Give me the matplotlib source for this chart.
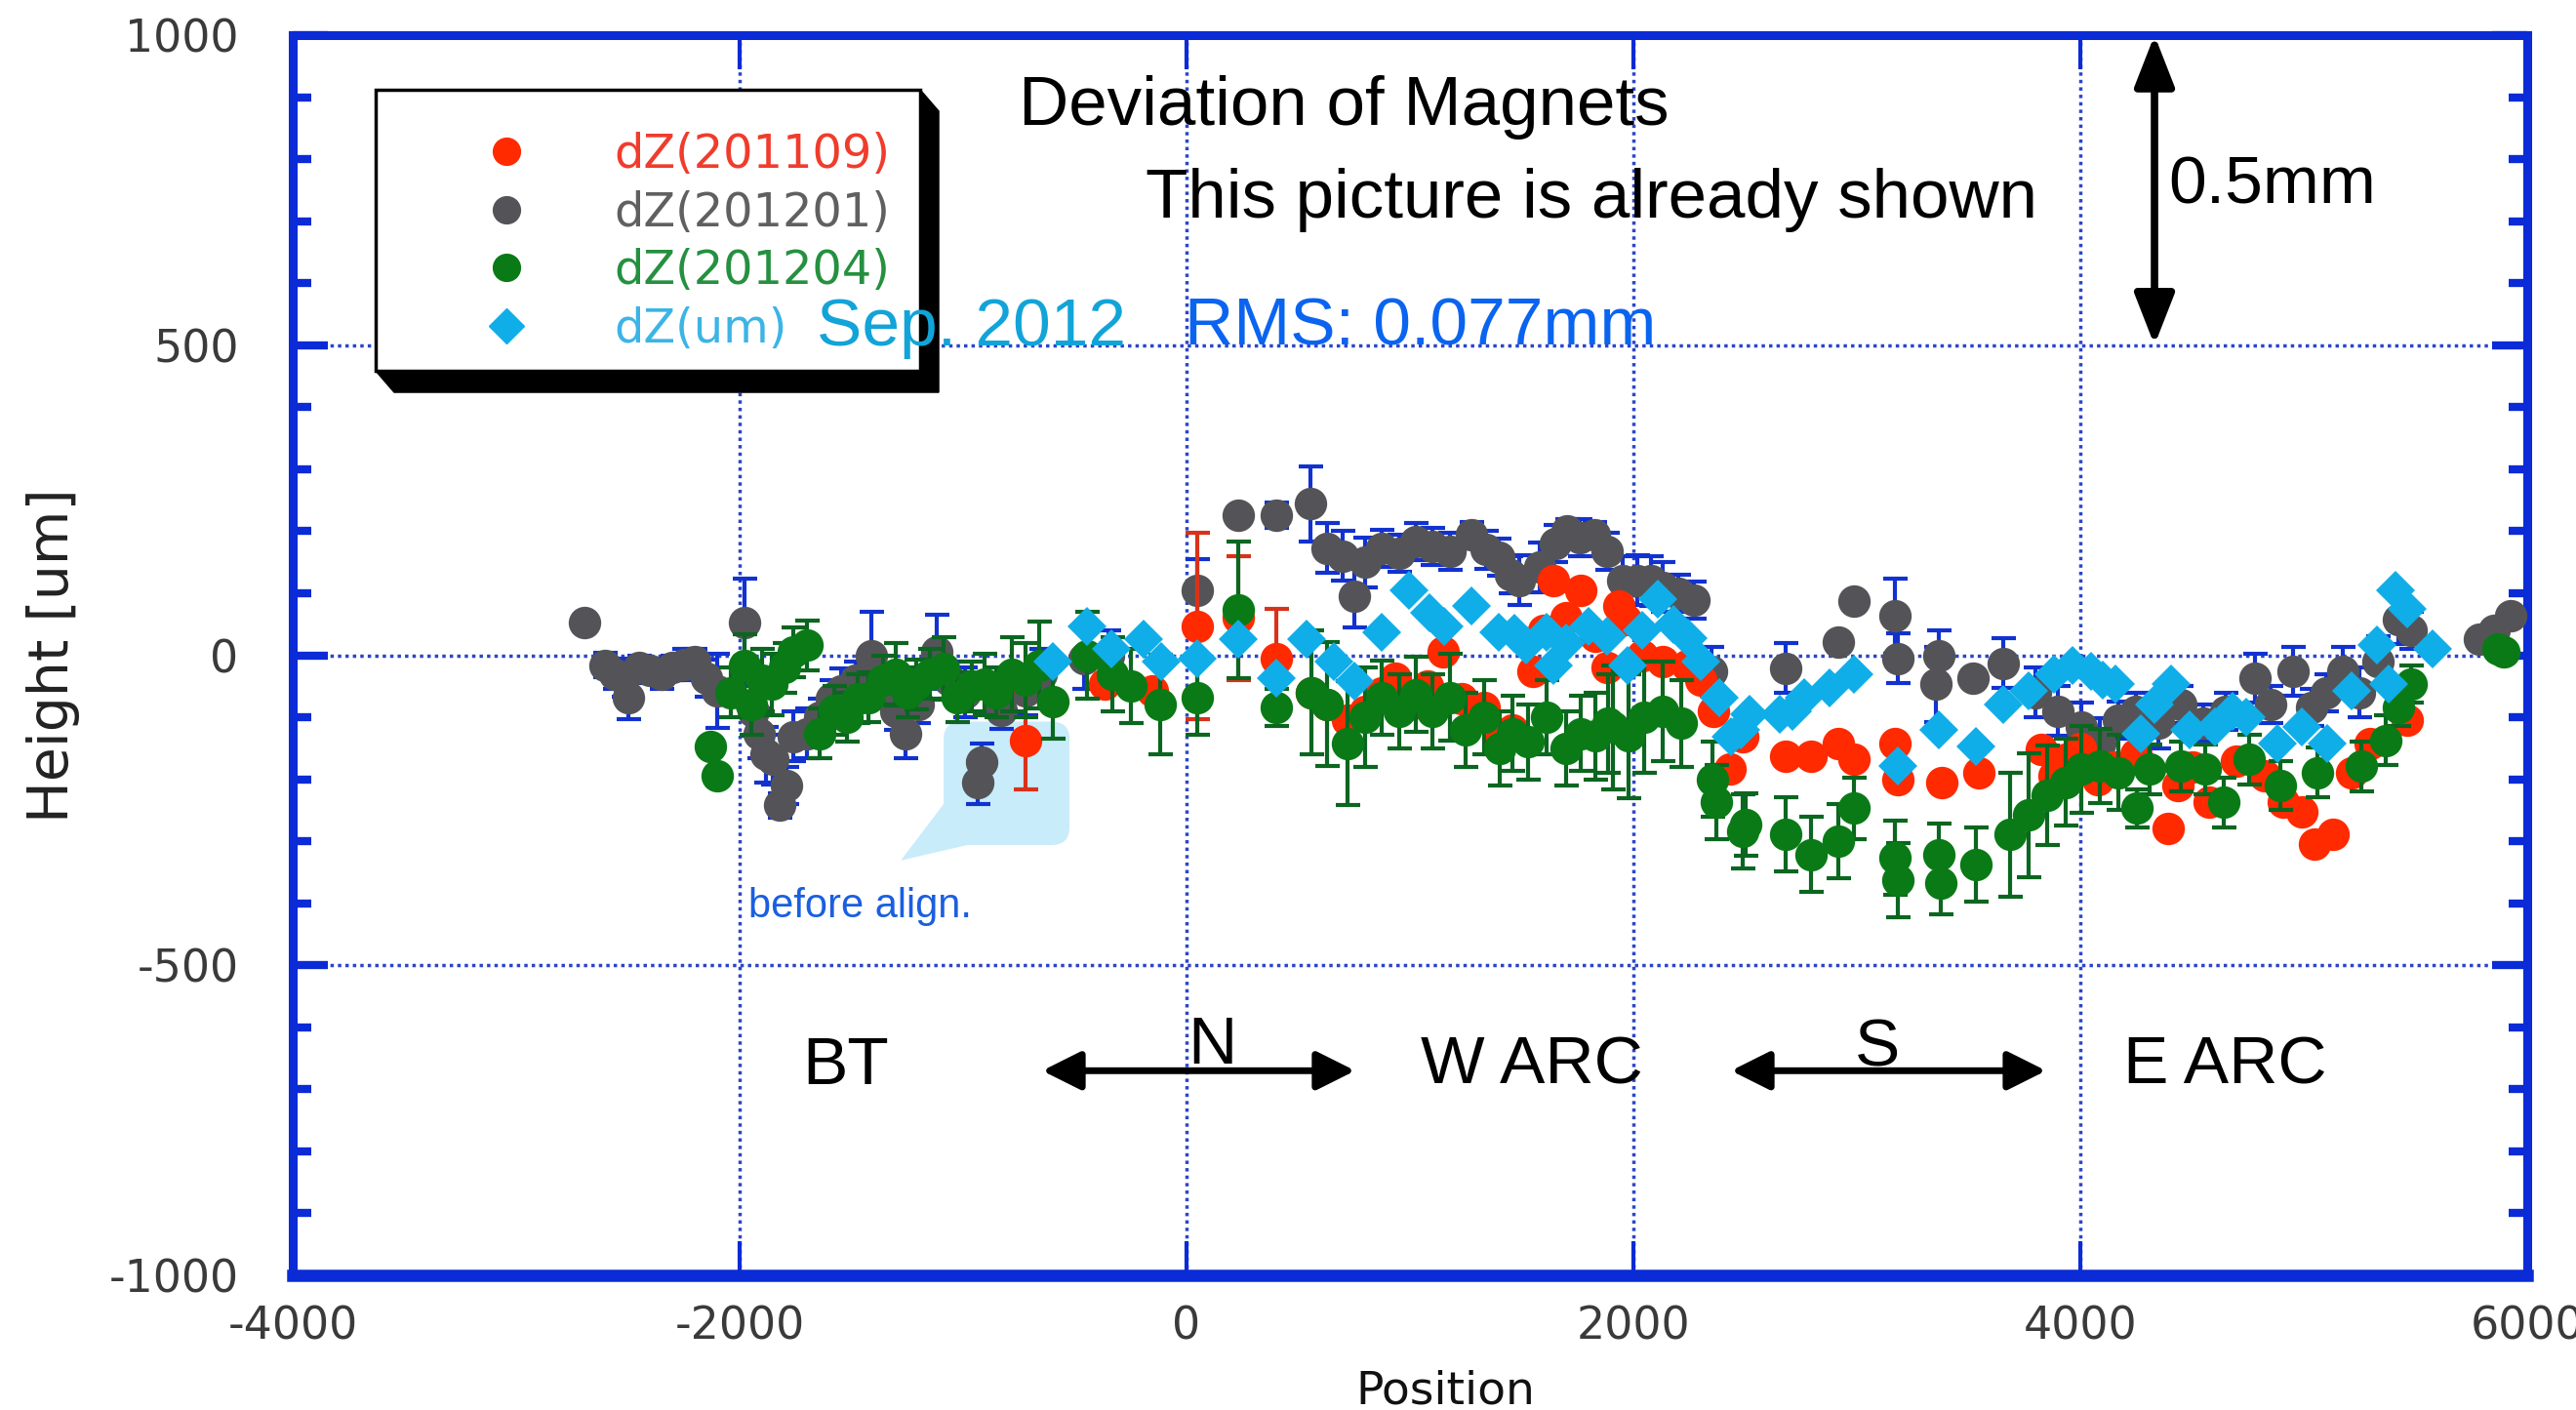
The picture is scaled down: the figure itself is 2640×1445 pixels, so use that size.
import numpy as np
import matplotlib
matplotlib.use("Agg")
import matplotlib.pyplot as plt
from matplotlib.patches import FancyBboxPatch, Polygon, Rectangle
from matplotlib.lines import Line2D
from matplotlib.ticker import MultipleLocator

plt.rcParams['axes.unicode_minus'] = False
plt.rcParams['font.family'] = ['DejaVu Sans']

# ---------------- data ----------------
gray_x = [-2696, -2604, -2560, -2520, -2496, -2450, -2400, -2350, -2300, -2250, -2200, -2150, -2099,
          -1977, -1940, -1912, -1880, -1850, -1823, -1790, -1762, -1700, -1640, -1590, -1548, -1480,
          -1410, -1350, -1300, -1257, -1200, -1119, -1060, -990, -935, -915, -828, -721, -650, -460,
          -350, 47, 231, 400, 553, 630, 700, 752, 800, 875, 950, 1028, 1100, 1181, 1273, 1340, 1396,
          1450, 1488, 1580, 1650, 1702, 1760, 1825, 1880, 1950, 2019, 2080, 2130, 2200, 2270, 2349,
          2683, 2919, 2989, 3170, 3184, 3352, 3365, 3518, 3657, 3800, 3900, 4003, 4086, 4170, 4250,
          4350, 4450, 4550, 4650, 4783, 4850, 4950, 5034, 5100, 5173, 5250, 5330, 5423, 5480, 5785,
          5850, 5924]
gray_y = [53, -16, -30, -37, -68, -20, -25, -30, -20, -15, -10, -37, -57,
          53, -90, -126, -160, -168, -242, -210, -131, -126, -100, -70, -57, -40,
          0, -50, -90, -126, -80, 5, -40, -60, -205, -173, -89, -57, -30, -5,
          0, 105, 226, 226, 244, 173, 160, 95, 150, 173, 165, 184, 175, 168, 195, 170, 158,
          130, 121, 142, 180, 200, 190, 195, 168, 120, 121, 120, 110, 100, 89, -26,
          -21, 21, 87, 63, -5, -47, 0, -37, -13, -60, -90, -116, -142, -105, -90,
          -110, -80, -110, -90, -37, -80, -26, -84, -60, -26, -60, -10, 58, 40, 26,
          40, 63]
gray_err = [0, 20, 25, 30, 35, 20, 20, 25, 20, 25, 20, 30, 60,
            70, 40, 40, 45, 40, 20, 30, 40, 40, 30, 30, 35, 30,
            70, 30, 30, 40, 30, 60, 30, 40, 35, 30, 30, 40, 40, 50,
            40, 50, 0, 20, 60, 40, 40, 50, 40, 30, 30, 30, 30, 30, 20, 30, 30,
            30, 40, 40, 30, 20, 30, 20, 30, 40, 40, 40, 40, 30, 30, 40,
            40, 0, 0, 60, 40, 60, 40, 0, 40, 40, 40, 40, 40, 30, 30,
            40, 30, 30, 30, 40, 30, 40, 30, 30, 40, 40, 40, 40, 30, 0,
            0, 0]

red_x = [-721, -367, -153, 47, 231, 400, 560, 630, 721, 800, 875, 936, 1000, 1080, 1150, 1230,
         1300, 1334, 1396, 1460, 1549, 1600, 1641, 1700, 1764, 1830, 1880, 1936, 1964, 2040, 2130,
         2242, 2300, 2360, 2433, 2488, 2683, 2794, 2919, 2989, 3170, 3184, 3379, 3546, 3824, 3880,
         3935, 4000, 4080, 4150, 4250, 4394, 4436, 4500, 4575, 4700, 4825, 4908, 4992, 5047, 5131,
         5214, 5298, 5465]
red_y = [-137, -47, -58, 47, 60, -5, -60, -80, -105, -90, -60, -37, -80, -50, 5, -70,
         -100, -84, -142, -120, -26, 40, 121, 60, 105, 30, -20, 79, 58, 0, -10,
         -16, -40, -90, -184, -131, -163, -163, -142, -168, -142, -200, -205, -189, -152, -194,
         -168, -150, -200, -180, -160, -279, -210, -180, -237, -170, -194, -237, -253, -305, -289,
         -189, -142, -105]
red_err = [80, 0, 0, 150, 100, 80, 0, 0, 0, 0, 0, 0, 0, 0, 0, 0,
           0, 0, 0, 0, 0, 0, 0, 0, 0, 0, 0, 0, 0, 0, 0,
           0, 0, 0, 0, 0, 0, 0, 0, 0, 0, 0, 0, 0, 0, 0,
           0, 0, 0, 0, 0, 0, 0, 0, 0, 0, 0, 0, 0, 0, 0,
           0, 0, 0]

green_x = [-2129, -2099, -2040, -1977, -1946, -1900, -1854, -1800, -1762, -1700, -1640, -1578, -1520,
           -1470, -1425, -1360, -1303, -1250, -1211, -1150, -1089, -1027, -960, -905, -850, -782,
           -720, -660, -599, -446, -334, -250, -120, 47, 231, 400, 560, 630, 721, 800, 875, 950,
           1028, 1100, 1181, 1250, 1334, 1400, 1457, 1530, 1610, 1700, 1764, 1830, 1886, 1908, 1980,
           2047, 2130, 2214, 2353, 2370, 2488, 2500, 2683, 2794, 2919, 2989, 3170, 3184, 3365, 3375,
           3532, 3685, 3769, 3852, 3935, 4003, 4086, 4170, 4253, 4308, 4450, 4561, 4644, 4756, 4894,
           5061, 5256, 5367, 5423, 5479, 5868, 5896]
green_y = [-147, -195, -60, -16, -79, -40, -47, -20, 5, 16, -126, -89, -100,
           -70, -68, -40, -31, -60, -47, -30, -21, -68, -50, -47, -60, -31,
           -40, -16, -74, 0, -31, -50, -79, -68, 73, -84, -60, -79, -142, -100, -68, -90,
           -63, -90, -68, -120, -100, -150, -126, -140, -100, -150, -126, -130, -110, -116, -130,
           -100, -90, -110, -200, -237, -284, -273, -289, -321, -300, -247, -326, -363, -321, -368,
           -337, -289, -258, -226, -205, -184, -179, -189, -247, -184, -179, -184, -237, -168, -210,
           -189, -179, -137, -84, -47, 10, 5]
green_err = [0, 0, 40, 50, 50, 50, 50, 40, 40, 40, 40, 40, 40,
             40, 40, 40, 50, 40, 40, 40, 50, 40, 40, 50, 40, 60,
             60, 70, 60, 70, 60, 60, 80, 60, 110, 30, 100, 100, 100, 80, 60, 60,
             60, 60, 70, 60, 60, 60, 60, 60, 60, 60, 60, 70, 80, 100, 100,
             90, 80, 70, 60, 60, 60, 50, 60, 60, 60, 50, 60, 60, 50, 50,
             60, 100, 100, 80, 70, 70, 60, 60, 30, 40, 40, 40, 40, 40, 40,
             40, 40, 40, 30, 30, 0, 0]

cyan_x = [-599, -446, -337, -190, -113, 47, 231, 400, 538, 660, 752, 875, 997, 1089, 1153, 1273,
          1396, 1467, 1518, 1610, 1642, 1700, 1799, 1880, 1974, 2040, 2109, 2180, 2245, 2300, 2384,
          2436, 2480, 2519, 2655, 2712, 2766, 2877, 2989, 3184, 3365, 3532, 3657, 3769, 3880, 3963,
          4047, 4100, 4158, 4270, 4330, 4408, 4491, 4603, 4680, 4742, 4880, 4992, 5103, 5214, 5326,
          5381, 5409, 5465, 5576]
cyan_y = [-10, 47, 10, 26, -10, -5, 26, -37, 26, -10, -42, 37, 105, 68, 47, 79,
          37, 36, 16, 37, -16, 20, 47, 30, -16, 40, 90, 50, 27, -10, -68,
          -131, -121, -95, -95, -90, -68, -53, -31, -179, -121, -147, -79, -58, -30, -16,
          -26, -40, -47, -126, -80, -47, -121, -116, -90, -100, -142, -116, -142, -58, 16,
          -47, 105, 74, 10]

labels = ['dZ(201109)', 'dZ(201201)', 'dZ(201204)', 'dZ(um)']
x_ticks = [-4000, -2000, 0, 2000, 4000, 6000]
y_ticks = [-1000, -500, 0, 500, 1000]

# ---------------- style ----------------
BLUE = '#0a2bd6'
RED = '#ff2a00'
GRAY = '#545458'
GREEN = '#097a16'
CYAN = '#10aee8'
RED_BAR = '#d8321a'
GRAY_BAR = '#1232d0'
GREEN_BAR = '#0b6620'

fig = plt.figure(figsize=(26.4, 14.45), dpi=100)
ax = fig.add_axes([0.11364, 0.0955, 0.86742, 0.87958])
ax.set_xlim(-4000, 6000)
ax.set_ylim(-1000, 1000)

for s in ax.spines.values():
    s.set_color(BLUE)
    s.set_linewidth(6.5)
ax.spines['bottom'].set_linewidth(9)

ax.set_xticks(x_ticks)
ax.set_yticks(y_ticks)
ax.yaxis.set_minor_locator(MultipleLocator(100))
ax.tick_params(axis='x', which='major', direction='in', length=25, width=3, color=BLUE,
               top=True, bottom=True, labelsize=33, labelcolor='#3a3a3a', pad=22)
ax.tick_params(axis='y', which='major', direction='in', length=26, width=6, color=BLUE,
               left=True, right=True, labelsize=33, labelcolor='#3a3a3a', pad=40)
ax.tick_params(axis='y', which='minor', direction='in', length=14, width=6, color=BLUE,
               left=True, right=True)
ax.grid(True, which='major', color='#2b45c8', linestyle=(0, (1, 1.2)), linewidth=2.5, zorder=0)
ax.set_axisbelow(True)

ax.set_xlabel('Position', fontsize=34, color='#111111')
ax.xaxis.set_label_coords(0.516, -0.076)
ax.set_ylabel('Height [um]', fontsize=41, color='#222222')
ax.yaxis.set_label_coords(-0.095, 0.5)

# callout bubble (behind data)
bub = FancyBboxPatch((-1087, -306), 563, 199, boxstyle='round,pad=0,rounding_size=80',
                     mutation_aspect=0.35, facecolor='#c9ecfb', edgecolor='none', zorder=1)
ax.add_patch(bub)
ax.add_patch(Polygon([(-1087, -240), (-1279, -331), (-980, -306)], closed=True,
                     facecolor='#c9ecfb', edgecolor='none', zorder=1))

gx, gy, ge = map(np.array, (gray_x, gray_y, gray_err))
rx, ry, re_ = map(np.array, (red_x, red_y, red_err))
grx, gry, gre = map(np.array, (green_x, green_y, green_err))
cx, cy = np.array(cyan_x), np.array(cyan_y)

ebkw = dict(fmt='none', elinewidth=3, capsize=9, capthick=3)
m = ge > 0
ax.errorbar(gx[m], gy[m], yerr=ge[m], ecolor=GRAY_BAR, zorder=2, **ebkw)
ax.plot(gx, gy, 'o', ms=24, color=GRAY, mec=GRAY, mew=0, zorder=3)
m = re_ > 0
ax.errorbar(rx[m], ry[m], yerr=re_[m], ecolor=RED_BAR, zorder=4, **ebkw)
ax.plot(rx, ry, 'o', ms=24, color=RED, mec=RED, mew=0, zorder=5)
m = gre > 0
ax.errorbar(grx[m], gry[m], yerr=gre[m], ecolor=GREEN_BAR, zorder=6, **ebkw)
ax.plot(grx, gry, 'o', ms=24, color=GREEN, mec=GREEN, mew=0, zorder=7)
ax.plot(cx, cy, 'D', ms=20, color=CYAN, mec=CYAN, mew=0, zorder=8)

# legend box with shadow
x0, x1, yb, yt = 0.0371, 0.2808, 0.7293, 0.956
dx, dy = 0.0083, 0.0173
shadow = Polygon([(x0, yb), (x0 + dx, yb - dy), (x1 + dx, yb - dy), (x1 + dx, yt - dy), (x1, yt)],
                 closed=True, transform=ax.transAxes, facecolor='black', edgecolor='black', zorder=20)
ax.add_patch(shadow)
ax.add_patch(Rectangle((x0, yb), x1 - x0, yt - yb, transform=ax.transAxes, facecolor='white',
                       edgecolor='black', linewidth=2.5, zorder=21))
handles = [Line2D([], [], marker='o', ls='none', ms=20, color=RED),
           Line2D([], [], marker='o', ls='none', ms=20, color=GRAY),
           Line2D([], [], marker='o', ls='none', ms=20, color=GREEN),
           Line2D([], [], marker='D', ls='none', ms=18, color=CYAN)]
leg = ax.legend(handles, labels, loc='upper left', bbox_to_anchor=(0.0775, 0.922), frameon=False,
                fontsize=34.5, handlelength=1.73, handletextpad=1.43, labelspacing=0.26,
                borderaxespad=0, borderpad=0,
                labelcolor=['#f03c2c', '#606060', '#259040', '#3cb4e6'])
leg.set_zorder(22)

# annotations
tf = dict(family=['Liberation Sans', 'DejaVu Sans'])
ax.text(-751, 855, 'Deviation of Magnets', fontsize=51, color='black', va='baseline', zorder=25, **tf)
ax.text(-183, 705, 'This picture is already shown', fontsize=51, color='black', va='baseline',
        zorder=25, **tf)
ax.text(-1655, 500, 'Sep. 2012', fontsize=50, color='#12a4d8', va='baseline', zorder=25, **tf)
ax.text(-9, 500, 'RMS: 0.077mm', fontsize=50, color='#0a64f0', va='baseline', zorder=25, **tf)
ax.text(4393, 729, '0.5mm', fontsize=50, color='black', va='baseline', zorder=25, **tf)
ax.annotate('', xy=(4332, 1000), xytext=(4332, 500), annotation_clip=False,
            arrowprops=dict(arrowstyle='<|-|>,head_length=32,head_width=12.5', mutation_scale=1,
                            lw=5.5, color='black', shrinkA=0, shrinkB=0), zorder=25)

for xt, lab in [(-1721, 'BT'), (1048, 'W ARC'), (4192, 'E ARC')]:
    ax.text(xt, -691, lab, fontsize=50, color='black', va='baseline', zorder=25, **tf)
ax.text(4, -658, 'N', fontsize=50, color='black', va='baseline', zorder=25, **tf)
ax.text(2991, -662, 'S', fontsize=50, color='black', va='baseline', zorder=25, **tf)
for xa, xb in [(-646, 755), (2437, 3847)]:
    ax.annotate('', xy=(xb, -670), xytext=(xa, -670),
                arrowprops=dict(arrowstyle='<|-|>,head_length=24,head_width=12', mutation_scale=1,
                                lw=5, color='black', shrinkA=0, shrinkB=0), zorder=25)

ax.text(-1961, -423, 'before align.', fontsize=30, color='#1a5fe0', va='baseline', zorder=25, **tf)

fig.savefig('out.png', dpi=100)
